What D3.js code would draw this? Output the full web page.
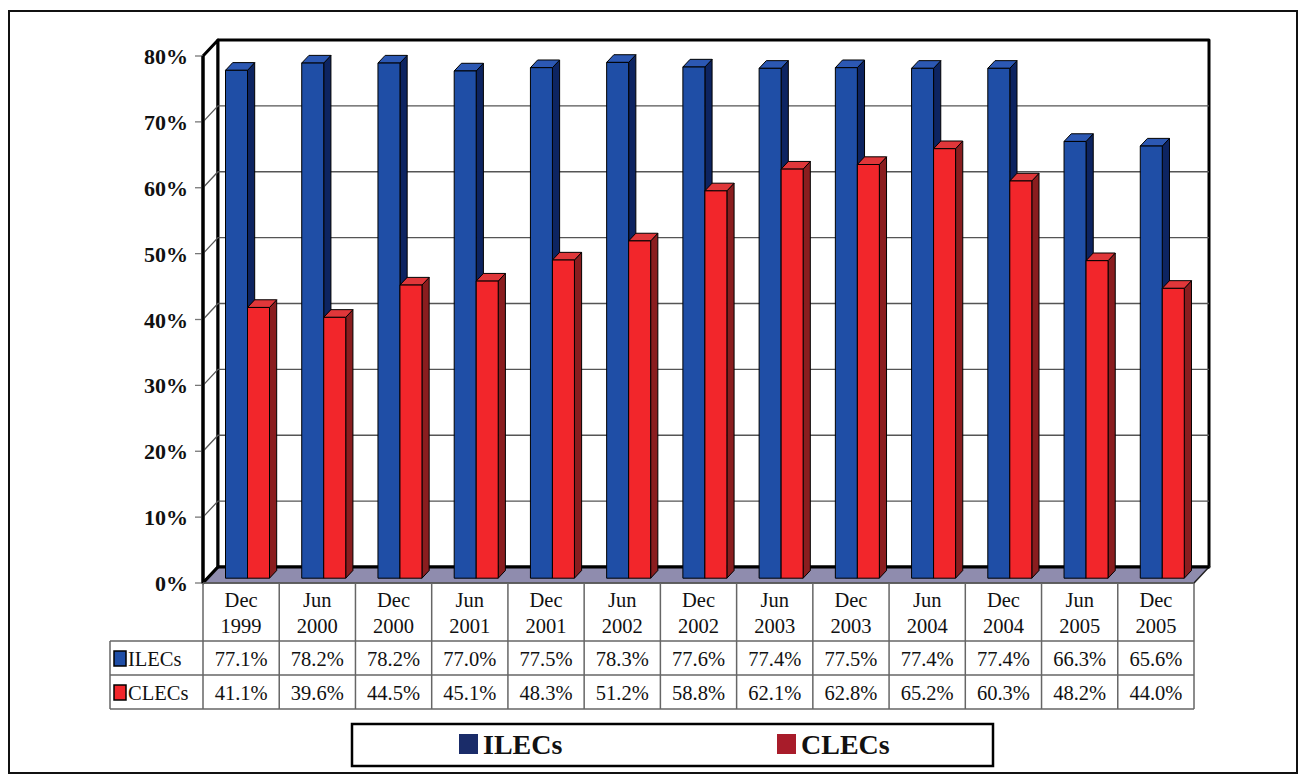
<!DOCTYPE html>
<html>
<head>
<meta charset="utf-8">
<title>ILECs vs CLECs</title>
<style>
body{ margin:0; background:#fff; }
text{ font-family:"Liberation Serif","Times New Roman",serif; fill:#111; }
.wall{ fill:#fff; stroke:#000; stroke-width:3px; stroke-linejoin:round; }
.grid{ stroke:#555; stroke-width:1.3px; fill:none; }
.cell{ stroke:#666; stroke-width:1.5px; }
.bar{ stroke:#000; stroke-width:1px; stroke-linejoin:round; }
</style>
</head>
<body>
<script src="https://cdn.jsdelivr.net/npm/d3@7"></script>
<script>

var categories = [["Dec","1999"],["Jun","2000"],["Dec","2000"],["Jun","2001"],["Dec","2001"],["Jun","2002"],
				  ["Dec","2002"],["Jun","2003"],["Dec","2003"],["Jun","2004"],["Dec","2004"],["Jun","2005"],["Dec","2005"]];
var ilecs = [77.1, 78.2, 78.2, 77.0, 77.5, 78.3, 77.6, 77.4, 77.5, 77.4, 77.4, 66.3, 65.6];
var clecs = [41.1, 39.6, 44.5, 45.1, 48.3, 51.2, 58.8, 62.1, 62.8, 65.2, 60.3, 48.2, 44.0];
var yTicks = [0, 10, 20, 30, 40, 50, 60, 70, 80];
var seriesNames = ["ILECs", "CLECs"];

var width = 1299, height = 776;

var svg = d3.select("body").append("svg")
			.attr("width", width)
			.attr("height", height);

// outer frame
svg.append("rect")
	.attr("x", 9).attr("y", 11)
	.attr("width", 1288).attr("height", 762)
	.attr("fill", "none").attr("stroke", "#111").attr("stroke-width", 2);

// 3d geometry: front plane + depth vector
var left = 203, right = 1194;
var depth = {x: 15, y: -16};

var keys = categories.map(function(c, i){ return i; });
var x = d3.scaleBand().domain(keys).range([left, right]);
var y = d3.scaleLinear().domain([0, 80]).range([583, 56]);

// project (front x, value, depth fraction) to screen
function P(px, v, t){
	return [px + depth.x * t, y(v) + depth.y * t];
}
function poly(pts){ return pts.map(function(p){ return p.join(","); }).join(" "); }

// left wall
svg.append("polygon").attr("class", "wall")
	.attr("points", poly([P(left, 0, 0), P(left, 80, 0), P(left, 80, 1), P(left, 0, 1)]));

// back wall
svg.append("polygon").attr("class", "wall")
	.attr("points", poly([P(left, 0, 1), P(left, 80, 1), P(right, 80, 1), P(right, 0, 1)]));

// gridlines on back and side wall
yTicks.slice(1, -1).forEach(function(v){
	svg.append("polyline").attr("class", "grid")
		.attr("points", poly([P(left, v, 0), P(left, v, 1), P(right, v, 1)]));
});

// floor
svg.append("polygon")
	.attr("points", poly([P(left, 0, 0), P(right, 0, 0), P(right, 0, 1), P(left, 0, 1)]))
	.attr("fill", "#8f8cae").attr("stroke", "#222").attr("stroke-width", 1.5);
svg.append("line")
	.attr("x1", P(left, 0, 1)[0]).attr("y1", P(left, 0, 1)[1])
	.attr("x2", P(right, 0, 1)[0]).attr("y2", P(right, 0, 1)[1])
	.attr("stroke", "#000").attr("stroke-width", 3);
svg.append("line")
	.attr("x1", P(left, 0, 0)[0]).attr("y1", P(left, 0, 0)[1])
	.attr("x2", P(left, 0, 1)[0]).attr("y2", P(left, 0, 1)[1])
	.attr("stroke", "#000").attr("stroke-width", 3);

// y axis ticks + labels
var yAxis = svg.append("g");
yTicks.forEach(function(v){
	yAxis.append("line")
		.attr("x1", left - 8).attr("x2", left)
		.attr("y1", y(v)).attr("y2", y(v))
		.attr("stroke", "#777").attr("stroke-width", 1.3);
	yAxis.append("text")
		.attr("x", 188).attr("y", y(v) + 8)
		.attr("text-anchor", "end")
		.attr("font-size", "22px").attr("font-weight", "bold")
		.text(v + "%");
});

// bars
var colors = {
	ILECs: {front: "#1f4ea6", side: "#0d2461", top: "#2c58b3"},
	CLECs: {front: "#f2262b", side: "#8a1d1f", top: "#e0373a"}
};
var barW = 22, t0 = 0.3, t1 = 0.78;

function drawBar(g, x0, v, c){
	var x1 = x0 + barW;
	g.append("polygon").attr("class", "bar").attr("fill", c.side)
		.attr("points", poly([P(x1, 0, t0), P(x1, v, t0), P(x1, v, t1), P(x1, 0, t1)]));
	g.append("polygon").attr("class", "bar").attr("fill", c.top)
		.attr("points", poly([P(x0, v, t0), P(x1, v, t0), P(x1, v, t1), P(x0, v, t1)]));
	g.append("polygon").attr("class", "bar").attr("fill", c.front)
		.attr("points", poly([P(x0, 0, t0), P(x0, v, t0), P(x1, v, t0), P(x1, 0, t0)]));
}

var bars = svg.append("g");
keys.forEach(function(i){
	var bx = x(i) + 18;
	drawBar(bars, bx, ilecs[i], colors.ILECs);
	drawBar(bars, bx + barW, clecs[i], colors.CLECs);
});

// front wall edge
svg.append("line")
	.attr("x1", left).attr("x2", left).attr("y1", y(80)).attr("y2", y(0))
	.attr("stroke", "#000").attr("stroke-width", 3);

// data table
var rowTop = 641, rowH = 34, labelX = 110;
var table = svg.append("g");

table.append("line").attr("class", "cell")
	.attr("x1", left).attr("x2", right).attr("y1", y(0)).attr("y2", y(0));
[0, 1, 2].forEach(function(r){
	table.append("line").attr("class", "cell")
		.attr("x1", labelX).attr("x2", right)
		.attr("y1", rowTop + r * rowH).attr("y2", rowTop + r * rowH);
});
table.append("line").attr("class", "cell")
	.attr("x1", labelX).attr("x2", labelX)
	.attr("y1", rowTop).attr("y2", rowTop + 2 * rowH);
keys.concat([keys.length]).forEach(function(i){
	var xx = i < keys.length ? x(i) : right;
	table.append("line").attr("class", "cell")
		.attr("x1", xx).attr("x2", xx)
		.attr("y1", y(0)).attr("y2", rowTop + 2 * rowH);
});

var fs = "20.5px";
keys.forEach(function(i){
	var cx = x(i) + x.bandwidth() / 2;
	table.append("text").attr("x", cx).attr("y", 607)
		.attr("text-anchor", "middle").attr("font-size", fs).text(categories[i][0]);
	table.append("text").attr("x", cx).attr("y", 633)
		.attr("text-anchor", "middle").attr("font-size", fs).text(categories[i][1]);
	table.append("text").attr("x", cx).attr("y", rowTop + 25)
		.attr("text-anchor", "middle").attr("font-size", fs).text(ilecs[i].toFixed(1) + "%");
	table.append("text").attr("x", cx).attr("y", rowTop + rowH + 25)
		.attr("text-anchor", "middle").attr("font-size", fs).text(clecs[i].toFixed(1) + "%");
});

seriesNames.forEach(function(name, r){
	var ty = rowTop + r * rowH;
	table.append("rect")
		.attr("x", 114).attr("y", ty + 10)
		.attr("width", 12).attr("height", 15)
		.attr("fill", colors[name].front).attr("stroke", "#000").attr("stroke-width", 1.5);
	table.append("text").attr("x", 128).attr("y", ty + 25)
		.attr("font-size", fs).text(name);
});

// legend
var legend = svg.append("g");
legend.append("rect")
	.attr("x", 352).attr("y", 724).attr("width", 641).attr("height", 42)
	.attr("fill", "#fff").attr("stroke", "#000").attr("stroke-width", 2.5);
var legendColors = {ILECs: "#1a2c69", CLECs: "#a81c2a"};
var legendX = [459, 777];
seriesNames.forEach(function(name, k){
	legend.append("rect")
		.attr("x", legendX[k]).attr("y", 734)
		.attr("width", 19).attr("height", 20)
		.attr("fill", legendColors[name]);
	legend.append("text")
		.attr("x", legendX[k] + 24).attr("y", 754)
		.attr("font-size", "28px").attr("font-weight", "bold")
		.text(name);
});

</script>
</body>
</html>
